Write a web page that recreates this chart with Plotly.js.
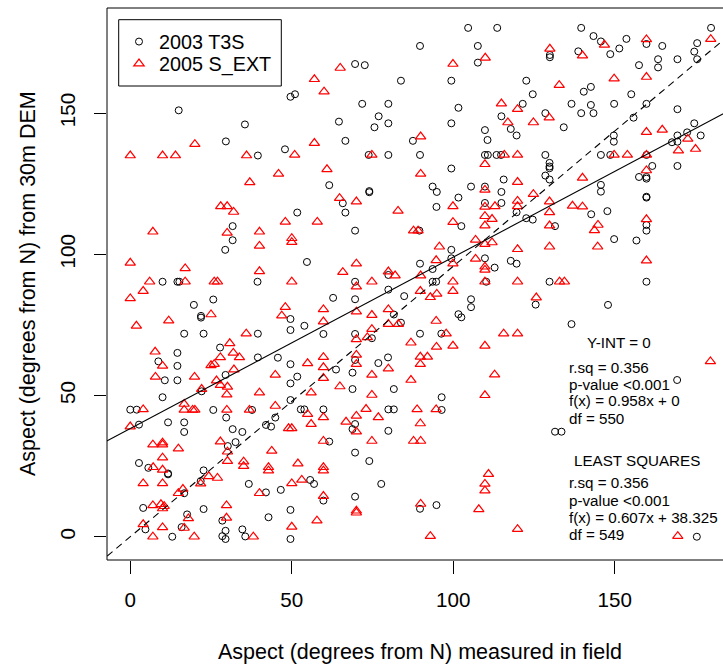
<!DOCTYPE html>
<html><head><meta charset="utf-8">
<script src="https://cdn.plot.ly/plotly-3.0.1.min.js"></script>
<style>html,body{margin:0;padding:0;background:#fff;}#plot{width:723px;height:666px;}</style>
</head><body><div id="plot"></div>
<script>
// ---- 2003 T3S (black open circles) ----
const t3sX = [
 15,35.5,29.6,39.5,31.7,31.7,29.4,10,14.6,15.2,39.4,
 69.6,72.6,83.8,49.6,51,71.8,79.9,76.9,75.6,79.9,64.6,66.6,47.9,73.8,79.9,87.5,61.6,74,74,65.8,66.6,51.7,69.6,54.7,79.9,69.6,
 104.6,113.6,89.7,107.6,129.9,129.9,107.6,99.4,122.6,124.6,121.5,101.6,128.5,114.9,99.4,134.2,117.8,119.6,109.8,110.6,89.7,109.8,110.7,113.4,114.8,128.5,129.8,129.8,129.8,99.4,128.5,129.8,115.6,93.6,94.9,105.5,109.8,114.9,101.6,94.8,109.8,114.9,119.6,122.6,124.6,102.5,131.5,89.5,99.4,99.4,109.8,112.8,117.8,119.6,89.7,93.6,93.6,94.7,110.2,129.8,
 139.6,179.8,143.4,145.7,153.6,151.4,148.6,159.8,164.7,175.5,174.6,175.5,169.4,163.4,163.4,157.5,138.7,140.4,142.6,155.1,136.6,142.6,149.8,159.8,139.6,143.4,169.4,155.8,149.7,149.7,174.6,172.4,169.4,176.6,167.7,169.4,145.7,148.6,159.8,161.6,169.4,157.5,159.8,159.8,145.7,145.7,159.8,159.8,142.7,147.7,159.8,159.8,149.8,156.7,159.8,
 147.9,136.6,169.3,131.5,133.5,175.4,
 19.7,25.7,21.9,21.9,16.7,22.7,39.5,14.6,8.7,14.6,27.8,39.5,10.7,14.6,29.5,22.1,10,0,2,25.7,37.7,29.7,2.7,11.7,16.7,16.7,31.7,34.7,32.6,30.2,2.7,5.6,11.7,11.7,22.7,21.8,36.7,16.7,4,22.7,17.6,28.5,4.7,15.9,13,29.5,28.5,29.5,34.7,35.6,
 49.6,49.6,53.9,62.8,59.8,69.6,79.9,81.6,84.8,83.8,69.6,74.8,45.7,49.6,51.7,49.6,63.7,49.6,69.6,68.8,68.8,76.8,79.8,81.6,42,43.6,44.9,52.8,53.9,59.8,61.6,69.6,68.8,79.9,81.6,79.9,69.6,74,55.7,56.9,42,46.6,59.8,69.6,77.7,49.6,42.8,49.6,
 105.5,105.5,101.6,102.5,125.5,89.7,96.3,96.4,96.4,89.7,94.8
];
const t3sY = [
 151,146,140,135,110,105,101.6,90.3,90.3,90.3,90.3,
 167.4,167,161.5,155.8,156.7,153.3,153.3,148.9,145,146.4,147,140.2,137.2,135.2,135.2,140.2,124.5,122,122.4,118.1,114.8,114.8,108.4,97.3,92.7,90.3,
 180.2,180.2,173.8,173.8,170.6,169.8,167.9,161.5,161.5,156.7,153.3,151.9,150,148.9,146.4,145,144.4,142.1,144,140.5,135.2,135.2,135.2,135.2,135.2,135.2,132.4,131.1,130.5,130.4,127.9,126.5,126.5,124,122.1,124,124,122.1,120.1,116.8,118.2,118.2,114.9,112.8,112.3,110,110,108.4,101.6,98.6,98.6,95.3,97.7,96.7,96.7,94.8,90.3,90.3,90.3,90.3,
 180.2,180.2,177.3,175.4,176.3,172.9,170.9,174.5,173.8,174.8,171.8,169.1,169.1,169.1,166.2,167,171.9,157.6,159.3,156.7,153.3,152.9,153.3,153.3,150,150,151.4,148.4,142.1,139.9,146.4,143.2,142.1,142.1,139.7,139.9,135.2,135.2,135.2,131.3,131.3,127.4,127.4,126.8,124.6,122.2,120.1,120.4,114.2,115.3,110.4,108.4,105.4,104.9,90.3,
 82.1,75.3,55.5,37.2,37.2,0,
 82.1,84,78.2,77.6,71.9,71.9,71.9,65.1,62.1,60.5,67,63.5,55.4,55.4,57.3,51.5,49.4,45,45,44.9,44.9,42.2,39.7,40.5,40.5,37.1,38.1,37.1,33.5,32.1,26.1,24.4,22.1,22.4,23.5,19.7,18.7,15.4,10.2,9.8,7.9,5.7,2.6,3.4,0,2.1,0.2,-0.8,2.6,0.1,
 77.1,73.2,74.7,84.6,71.8,84.1,87.5,78.7,85.2,75.8,71.8,70.3,63.4,61.1,56.7,54.3,59.2,48.4,62.6,58.1,52.3,61.5,63.5,52.3,39.6,39,42.2,45.1,45.1,45.1,33.7,39.9,38.1,45.1,45.1,37.5,29.8,26.8,20.1,18.7,15.7,16.6,12.8,14.2,18.7,9.5,6.9,-0.8,
 84.1,81.3,78.8,77.7,82.2,71.9,71.9,49.4,44.9,9.9,11.2
];
// ---- 2005 S_EXT (red open triangles) ----
const sextX = [
 20,0,10,14,36,37,28,30,32,7,30,40,40,0,17,40,6,17,26,27,
 65,57,60,57,50.9,74.8,45.9,60.9,64.8,70,48,57.9,82.9,50,50,70,65.8,79.9,82,50,74.8,70,
 129.9,109.9,99.9,132.8,114.9,119.9,129.7,116.9,124.8,89.9,115.8,119.9,109.8,89.9,119.9,109.8,124.8,99.9,109.8,112.9,119.9,119.9,129.8,129.8,109.8,112,99.9,109.8,129.8,87.7,89.1,95.7,106.9,109.8,112,119.9,129.8,94.7,99.9,106.9,109.8,109.8,89.9,99.9,109.8,119.9,132.9,134.4,
 146.8,159.8,179.7,140,149.8,159.8,159.8,164.7,172.6,169.7,175,149.8,153.9,159.8,159.8,140,136.9,140,159.8,144.8,143.7,144.7,159.8,
 179.6,169.5,
 0,4,25,1.9,11.9,35.9,7.7,10,30.8,31.9,33.8,27.9,25,26,32.1,7.8,19.9,26.7,27.9,30.1,29.9,22.1,40,4,16.7,16.7,19.3,20,29.9,36.9,0,7,10,10,14.9,27.9,30.1,30.1,10,35.1,35.1,7.1,10,24.3,27,21.8,4,10,16.3,14.9,40,9.5,10,10.5,7,18,29.8,29.8,4,10,16.7,7,19.8,38.1,
 48,46.9,59.8,59.8,70,74.8,79.9,79.9,83,70,73.4,74.8,86.9,44.9,54.9,59.8,59.8,59.8,64.9,56,70,70,74.8,79.9,74.8,44.9,49,50,54.9,56,59.8,59.8,66.8,70,70,73,76.8,74.8,43.8,42.8,42.8,51.9,59.8,59.8,53.1,50,59.8,70,70,57.8,50,
 89.8,94.9,92.9,99.9,125.7,94.7,97.8,115.6,119.9,94.8,99.9,109.8,89.8,92,89.8,86.9,112.8,109.8,88.8,94.7,89.8,87.7,89.9,110.9,109.8,109.8,89.9,107.9,119.9,92.9
];
const sextY = [
 139,135,135,135,135,125.5,117,117,115,108,107.6,108,103,97,95,94,90.3,90.3,90.3,90.3,
 166,162,157.6,139.4,135.2,135.2,128.5,130.1,119.9,118.7,111.5,111.5,115.4,105.7,104.3,96.7,93.7,93.9,92.5,90.3,90.3,88.6,
 172.8,169.6,167.4,159.9,153.4,151.4,148.4,146.7,146.7,141.7,135.2,135.2,131.9,128.5,125.6,122.8,121.3,117,116.8,117,118.9,117,118.7,114.9,113.5,112.5,111.4,110.2,110.2,108.4,108.4,102.7,105.1,103.6,104.2,101.8,102.7,97.9,96.7,98.4,95.6,94.5,92.5,90.3,90.3,90.3,90.3,90.3,
 174.2,176.1,176.2,170.4,162.2,162.8,143.3,144.1,140.9,136.7,137.3,135.2,135.2,135.2,129.7,127.1,117.2,116.9,112.4,110.4,108.5,102.7,97.8,
 62.1,0.2,
 84.4,87,78.7,74.7,76.5,71.9,65.5,60.5,68.5,65.1,63.5,63.5,60.7,61.1,59.2,56.6,56.6,55.3,53.7,53.1,50.3,52.3,51,45.1,47,44.9,44.9,44.9,44.9,44.9,39,32.6,33.3,32.6,31.2,33.7,30.1,26.8,28,26.6,25,24.6,23.7,21.4,20.8,18.8,18.9,18.9,16.9,15.4,15.4,11.5,10,10.8,11.1,6.5,11.1,6.7,4.4,3.3,3.1,0,0,0,
 81.3,78.3,80.5,76.2,79.7,78.5,80.5,75.3,75.3,69.9,70.6,73.5,68.7,57.3,61.4,63.6,60,56.2,53.2,51,64.4,61.1,57.3,59.5,50.2,46.3,38.4,38.4,43.4,39.9,42.3,33.9,40.7,42.8,37.2,45.2,42.3,33.9,30.4,24.6,23.4,25.9,24.6,23.4,20.1,18.9,14.4,9.2,8.5,5.7,3.5,
 87,86,84.8,87,84.7,76.4,71.9,71.9,71.9,67.2,67.6,67.6,63.7,63.7,61.1,55.5,57.4,50.1,45.1,45.1,40.1,33.9,33.9,22.2,18.7,16.3,11.6,9.7,2.7,0.2
];
// ---- fitted lines: [intercept, slope] ----
const fitLeastSquares = [38.325, 0.607];
const fitZeroIntercept = [0, 0.958];
const lineXExtent = [-10, 190];
// ---- ticks & labels ----
const tickValues = [0, 50, 100, 150];
const seriesNames = ['2003 T3S', '2005 S_EXT'];
const xTitle = 'Aspect (degrees from N) measured in field';
const yTitle = 'Aspect (degrees from N) from 30m DEM';
const statHeadings = ['Y-INT = 0', 'LEAST SQUARES'];
const statsZero = ['r.sq = 0.356', 'p-value <0.001', 'f(x) = 0.958x + 0', 'df = 550'];
const statsLS = ['r.sq = 0.356', 'p-value <0.001', 'f(x) = 0.607x + 38.325', 'df = 549'];

const FONT = '"Liberation Sans", Arial, Helvetica, sans-serif';
// size a font so that a sample string reaches the width seen in the reference
const mctx = document.createElement('canvas').getContext('2d');
function fitFont(text, targetPx) {
  mctx.font = '100px ' + FONT;
  const w = mctx.measureText(text).width;
  return w > 0 ? Math.round(1000 * targetPx / w) / 10 : 15;
}
const statSize = fitFont(statsLS[2], 148.5);
const legendSize = fitFont(seriesNames[0], 86);
const titleSize = fitFont(xTitle, 404);
const tickSize = fitFont('100', 34.3);

const lineY = c => lineXExtent.map(x => c[0] + c[1] * x);

const traces = [
  {x: t3sX, y: t3sY, type: 'scatter', mode: 'markers', name: seriesNames[0], legend: 'legend',
   marker: {symbol: 'circle-open', size: 7, color: 'black', line: {width: 1, color: 'black'}}},
  {x: sextX, y: sextY, type: 'scatter', mode: 'markers', name: seriesNames[1], legend: 'legend2',
   marker: {symbol: 'triangle-up-open', size: 9, color: '#ff0000', line: {width: 1.2, color: '#ff0000'}}},
  {x: lineXExtent, y: lineY(fitLeastSquares), type: 'scatter', mode: 'lines', showlegend: false,
   line: {color: 'black', width: 1.1}},
  {x: lineXExtent, y: lineY(fitZeroIntercept), type: 'scatter', mode: 'lines', showlegend: false,
   line: {color: 'black', width: 1.1, dash: '7px,5px'}}
];

// pixel helpers for paper coords (plot area: x 107..723, y 8..560)
const L = 107, W = 616, T = 8, H = 552;
const px = p => (p - L) / W;
const py = p => (T + H - p) / H;
const txt = (x, y, text, size, extra) => Object.assign({xref: 'paper', yref: 'paper', x: px(x), y: py(y), text: text,
  showarrow: false, xanchor: 'left', yanchor: 'middle', font: {size: size, family: FONT, color: 'black'}}, extra || {});

const annotations = [
  txt(420, 652, xTitle, titleSize, {xanchor: 'center'}),
  txt(28, 284, yTitle, titleSize, {xanchor: 'center', textangle: -90}),
  txt(585, 342, statHeadings[0], statSize),
  txt(572, 460, statHeadings[1], statSize)
];
const zeroYs = [367, 384, 401, 418];
const lsYs = [483, 500, 517, 534];
statsZero.forEach((t, i) => annotations.push(txt(567, zeroYs[i], t, statSize)));
statsLS.forEach((t, i) => annotations.push(txt(567, lsYs[i], t, statSize)));

const axisCommon = {
  tickvals: tickValues, ticktext: tickValues.map(String), ticks: 'outside', ticklen: 12.5, tickwidth: 1,
  tickcolor: 'black', showgrid: false, zeroline: false, showline: false,
  tickfont: {size: tickSize, family: FONT, color: 'black'}
};
const legendCommon = {xanchor: 'left', yanchor: 'middle', bgcolor: 'rgba(0,0,0,0)', borderwidth: 0,
  font: {size: legendSize, family: FONT, color: 'black'}, itemwidth: 30};

const layout = {
  width: 723, height: 666,
  margin: {l: L, r: 0, t: T, b: 666 - T - H, pad: 0},
  paper_bgcolor: 'white', plot_bgcolor: 'white',
  font: {family: FONT, color: 'black'},
  showlegend: true,
  legend: Object.assign({x: px(119), y: py(41.7)}, legendCommon),
  legend2: Object.assign({x: px(119), y: py(63.7)}, legendCommon),
  xaxis: Object.assign({range: [-7.2, 183.5], ticklabelstandoff: 9}, axisCommon),
  yaxis: Object.assign({range: [-8.24, 187.24], tickangle: -90, ticklabelstandoff: 10}, axisCommon),
  shapes: [
    {type: 'rect', xref: 'paper', yref: 'paper', x0: 0, x1: 1.2, y0: 0, y1: 1, line: {color: 'black', width: 1}},
    {type: 'rect', xref: 'paper', yref: 'paper', layer: 'above', x0: px(118.7), x1: px(281.3), y0: py(86), y1: py(19.7),
     fillcolor: 'white', line: {color: 'black', width: 1}}
  ],
  annotations: annotations
};

Plotly.newPlot('plot', traces, layout, {displayModeBar: false, staticPlot: true});
</script>
</body></html>
